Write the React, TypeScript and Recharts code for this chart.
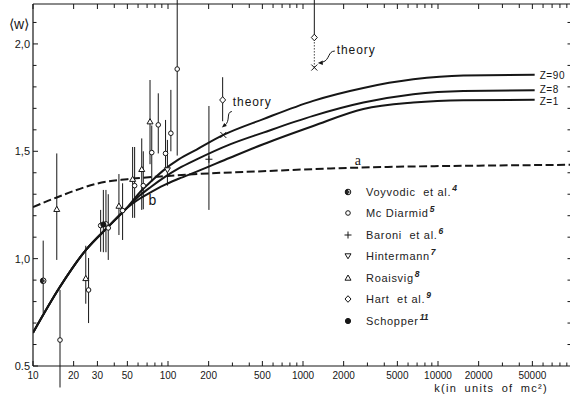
import React from "react";
import {
  ComposedChart,
  Line,
  Scatter,
  XAxis,
  YAxis,
  ErrorBar,
  Legend,
  ReferenceDot,
  LabelList,
} from "recharts";

if (typeof document !== "undefined") document.body.style.margin = "0";

const FONT = '"Liberation Sans", Arial, sans-serif';
const INK = "#161616";

// axes
const xTicks = [
  10, 20, 30, 40, 50, 60, 70, 80, 90, 100, 200, 300, 400, 500, 600, 700, 800, 900,
  1000, 2000, 3000, 4000, 5000, 6000, 7000, 8000, 9000, 10000, 20000, 30000, 40000,
  50000, 60000, 70000, 80000, 90000,
];
const xLabels = [10, 20, 30, 50, 100, 200, 500, 1000, 2000, 5000, 10000, 20000, 50000];
const yTicks = [0.5, 0.6, 0.7, 0.8, 0.9, 1.0, 1.1, 1.2, 1.3, 1.4, 1.5, 1.6, 1.7, 1.8, 1.9, 2.0, 2.1];
const yLabels: Record<string, string> = { "0.5": "0.5", "1": "1,0", "1.5": "1,5", "2": "2,0" };

// theory curves [k, <w>]
const curveZ90 = [
  [10, 0.655], [15.85, 0.869], [24.6, 1.04], [36.1, 1.149], [49.4, 1.235], [62, 1.31],
  [75, 1.36], [92, 1.41], [120, 1.462], [163, 1.508], [257, 1.576], [508, 1.65], [1190, 1.735],
  [2800, 1.795], [6560, 1.835], [15400, 1.853], [52000, 1.856],
];
const curveZ8 = [
  [10, 0.655], [15.85, 0.869], [24.6, 1.04], [36.1, 1.149], [49.4, 1.235], [62, 1.295],
  [75, 1.335], [92, 1.375], [120, 1.42], [163, 1.462], [288, 1.532], [508, 1.587], [1190, 1.665],
  [2800, 1.727], [6560, 1.766], [15400, 1.781], [52000, 1.784],
];
const curveZ1 = [
  [10, 0.655], [15.85, 0.869], [24.6, 1.04], [36.1, 1.149], [49.4, 1.235], [62, 1.28],
  [75, 1.31], [92, 1.34], [120, 1.372], [163, 1.405], [288, 1.47], [508, 1.533], [1190, 1.618],
  [2800, 1.697], [6560, 1.727], [15400, 1.738], [52000, 1.74],
];
const curveA = [
  [10, 1.24], [13, 1.27], [15, 1.285], [20, 1.315], [30, 1.35], [50, 1.37], [100, 1.385],
  [200, 1.397], [500, 1.407], [1600, 1.42], [5000, 1.428], [20000, 1.433], [95000, 1.437],
];

// measurements [k, <w>, bar low, bar high]
const voyvodic = [[11.9, 0.897, 0.747, 1.084]];
const mcDiarmid = [
  [15.85, 0.621, 0.4, 0.854],
  [25.8, 0.854, 0.7, 1.003],
  [31.7, 1.154, 1.032, 1.227],
  [34.7, 1.162, 1.03, 1.32],
  [36.1, 1.143, 0.994, 1.3],
  [46.1, 1.224, 1.087, 1.351],
  [56.6, 1.34, 1.19, 1.52],
  [65.6, 1.34, 1.23, 1.5],
  [75.8, 1.494, 1.358, 1.62],
  [84.7, 1.623, 1.49, 1.77],
  [95.9, 1.49, 1.413, 1.646],
  [105, 1.584, 1.5, 1.786],
  [117, 1.883, 1.48, 2.3],
];
const baroni = [[201, 1.463, 1.227, 1.711]];
const hintermann = [[99, 1.413, 1.34, 1.553]];
const roaisvig = [
  [15.0, 1.23, 0.994, 1.49],
  [24.6, 0.908, 0.79, 1.06],
  [43.3, 1.245, 1.11, 1.394],
  [54.7, 1.37, 1.19, 1.52],
  [63.9, 1.416, 1.227, 1.56],
  [73.6, 1.638, 1.44, 1.832],
];
const hart = [
  [254, 1.739, 1.64, 1.845],
  [1213, 2.03, 2.03, 2.3],
];
const schopper = [[33.2, 1.159, 1.03, 1.32]];
const theory = [
  [257, 1.576, 1.576, 1.576],
  [1213, 1.89, 1.89, 2.03],
];

const toLine = (rows: number[][]) => rows.map(([k, v]) => ({ k, v }));
const toPoints = (rows: number[][]) =>
  rows.map(([k, v, lo, hi]) => ({ k, v, err: [v - lo, hi - v] }));

const series = [
  { key: "voyvodic", rows: voyvodic, label: "Voyvodic  et al.", ref: "4" },
  { key: "mc", rows: mcDiarmid, label: "Mc Diarmid", ref: "5" },
  { key: "baroni", rows: baroni, label: "Baroni  et al.", ref: "6" },
  { key: "hinter", rows: hintermann, label: "Hintermann", ref: "7" },
  { key: "roaisvig", rows: roaisvig, label: "Roaisvig", ref: "8" },
  { key: "hart", rows: hart, label: "Hart  et al.", ref: "9" },
  { key: "schopper", rows: schopper, label: "Schopper", ref: "11" },
];

function Marker({ kind, cx, cy }: { kind: string; cx: number; cy: number }) {
  const s = { stroke: INK, strokeWidth: 1 };
  switch (kind) {
    case "voyvodic":
      return (
        <g>
          <circle cx={cx} cy={cy} r={2.8} fill="#fff" {...s} />
          <path d={`M${cx} ${cy - 2.8} A2.8 2.8 0 0 0 ${cx} ${cy + 2.8} Z`} fill={INK} />
          <circle cx={cx} cy={cy} r={1.6} fill="#333" />
        </g>
      );
    case "mc":
      return <circle cx={cx} cy={cy} r={2.3} fill="#fff" {...s} />;
    case "baroni":
      return (
        <path d={`M${cx - 3.5} ${cy}H${cx + 3.5}M${cx} ${cy - 3.5}V${cy + 3.5}`} fill="none" {...s} />
      );
    case "hinter":
      return (
        <path d={`M${cx - 3} ${cy - 2.2}L${cx + 3} ${cy - 2.2}L${cx} ${cy + 2.8}Z`} fill="#fff" {...s} />
      );
    case "roaisvig":
      return (
        <path d={`M${cx - 3} ${cy + 2.2}L${cx + 3} ${cy + 2.2}L${cx} ${cy - 3}Z`} fill="#fff" {...s} />
      );
    case "hart":
      return (
        <path d={`M${cx} ${cy - 3.3}L${cx + 3} ${cy}L${cx} ${cy + 3.3}L${cx - 3} ${cy}Z`} fill="#fff" {...s} />
      );
    case "schopper":
      return <circle cx={cx} cy={cy} r={2.6} fill={INK} {...s} />;
    case "theory":
      return (
        <path d={`M${cx - 3} ${cy - 3}L${cx + 3} ${cy + 3}M${cx + 3} ${cy - 3}L${cx - 3} ${cy + 3}`} {...s} />
      );
    default:
      return null;
  }
}

const BottomTick = (props: any) => {
  const { x, y, payload } = props;
  const labeled = xLabels.includes(payload.value);
  return (
    <g>
      <line x1={x} x2={x} y1={y} y2={y - (labeled ? 5 : 3.5)} stroke={INK} strokeWidth={1} />
      {labeled && (
        <text x={x} y={y + 13} textAnchor="middle" fontSize={10} fontFamily={FONT} fill={INK}>
          {payload.value}
        </text>
      )}
    </g>
  );
};

const TopTick = (props: any) => {
  const { x, y, payload } = props;
  const labeled = xLabels.includes(payload.value);
  return <line x1={x} x2={x} y1={y} y2={y + (labeled ? 5 : 4)} stroke={INK} strokeWidth={1} />;
};

const LeftTick = (props: any) => {
  const { x, y, payload } = props;
  const axisX = x + 3;
  const label = yLabels[String(payload.value)];
  return (
    <g>
      <line x1={axisX} x2={axisX + (label ? 5 : 3.5)} y1={y} y2={y} stroke={INK} strokeWidth={1} />
      {label && (
        <text x={x} y={y + 4} textAnchor="end" fontSize={11} fontFamily={FONT} fill={INK}>
          {label}
        </text>
      )}
    </g>
  );
};

const RightTick = (props: any) => {
  const { x, y } = props;
  return <line x1={x} x2={x - 2.5} y1={y} y2={y} stroke={INK} strokeWidth={1} />;
};

const zLabel = (text: string, count: number, dy: number) => (p: any) =>
  p.index === count - 1 ? (
    <text x={p.x + 5} y={p.y + dy} fontSize={10} fontFamily={FONT} fill={INK} letterSpacing={0.6}>
      {text}
    </text>
  ) : null;

const theoryLabel = (p: any) => {
  const cx = p.x;
  const cy = p.y;
  if (p.index === 0) {
    return (
      <g>
        <path
          d={`M${cx + 13} ${cy - 19} C${cx + 7} ${cy - 18} ${cx + 12} ${cy - 10} ${cx + 6} ${cy - 5}`}
          fill="none"
          stroke={INK}
          strokeWidth={1}
        />
        <path d={`M${cx + 3} ${cy - 3}L${cx + 8} ${cy - 4.5}L${cx + 5.5} ${cy - 7.5}Z`} fill={INK} />
        <text x={cx + 14} y={cy - 24} fontSize={12} fontFamily={FONT} fill={INK} letterSpacing={0.9}>
          theory
        </text>
      </g>
    );
  }
  return (
    <g>
      <path
        d={`M${cx + 25} ${cy - 12} C${cx + 18} ${cy - 12} ${cx + 20} ${cy - 3} ${cx + 13} ${cy - 1}`}
        fill="none"
        stroke={INK}
        strokeWidth={1}
      />
      <path d={`M${cx + 8} ${cy}L${cx + 13} ${cy - 2.5}L${cx + 13} ${cy + 2}Z`} fill={INK} />
      <text x={cx + 27} y={cy - 9} fontSize={12} fontFamily={FONT} fill={INK} letterSpacing={0.9}>
        theory
      </text>
    </g>
  );
};

const renderLegend = () => (
  <div style={{ fontFamily: FONT, fontSize: 11, color: "#222", letterSpacing: 0.7 }}>
    {series.map((s) => (
      <div key={s.key} style={{ display: "flex", alignItems: "center", height: 21.5, whiteSpace: "pre" }}>
        <svg width={12} height={12} style={{ marginRight: 12 }}>
          <Marker kind={s.key} cx={6} cy={6} />
        </svg>
        <span>
          {s.label}
          <span
            style={{
              position: "relative",
              top: -5,
              marginLeft: 1,
              fontStyle: "italic",
              fontWeight: "bold",
              fontSize: 8.5,
              letterSpacing: 0,
            }}
          >
            {s.ref}
          </span>
        </span>
      </div>
    ))}
  </div>
);

const yTitle = (p: any) => {
  const vb = p.viewBox;
  return (
    <text x={vb.x + 19} y={vb.y + 25} textAnchor="middle" fontSize={14} fontFamily={FONT} fill={INK}>
      ⟨w⟩
    </text>
  );
};

const xTitle = (p: any) => {
  const vb = p.viewBox;
  return (
    <text
      x={vb.x + vb.width - 22}
      y={vb.y + 26}
      textAnchor="end"
      fontSize={11}
      fontFamily={FONT}
      fill={INK}
      letterSpacing={1.3}
      wordSpacing={3}
    >
      k(in units of mc²)
    </text>
  );
};

const DOMAIN_X: [number, number] = [10, 95000];
const DOMAIN_Y: [number, number] = [0.5, 2.186];

export default function App() {
  return (
    <div style={{ background: "#fff", width: 571, height: 404 }}>
      <ComposedChart width={571} height={404} margin={{ top: 3, right: 0, bottom: 0, left: 0 }}>
        <XAxis
          dataKey="k"
          type="number"
          scale="log"
          domain={DOMAIN_X}
          allowDataOverflow
          ticks={xTicks}
          interval={0}
          tick={BottomTick}
          tickLine={false}
          tickSize={0}
          tickMargin={0}
          height={38}
          axisLine={{ stroke: INK, strokeWidth: 1.2 }}
          label={xTitle}
        />
        <XAxis
          xAxisId="top"
          orientation="top"
          dataKey="k"
          type="number"
          scale="log"
          domain={DOMAIN_X}
          allowDataOverflow
          ticks={xTicks}
          interval={0}
          tick={TopTick}
          tickLine={false}
          tickSize={0}
          tickMargin={0}
          height={1}
          axisLine={{ stroke: INK, strokeWidth: 1.2 }}
        />
        <YAxis
          dataKey="v"
          type="number"
          domain={DOMAIN_Y}
          allowDataOverflow
          ticks={yTicks}
          interval={0}
          tick={LeftTick}
          tickLine={false}
          tickSize={0}
          tickMargin={3}
          width={33}
          axisLine={{ stroke: INK, strokeWidth: 1.2 }}
          label={yTitle}
        />
        <YAxis
          yAxisId="right"
          orientation="right"
          type="number"
          domain={DOMAIN_Y}
          allowDataOverflow
          ticks={yTicks.slice(1)}
          interval={0}
          tick={RightTick}
          tickLine={false}
          axisLine={false}
          tickSize={0}
          tickMargin={0}
          width={1}
        />

        <Line data={toLine(curveA)} dataKey="v" type="monotone" stroke={INK} strokeWidth={2}
          strokeDasharray="8 3.5" dot={false} isAnimationActive={false} legendType="none" />
        <Line data={toLine(curveZ1)} dataKey="v" type="monotone" stroke={INK} strokeWidth={2}
          dot={false} isAnimationActive={false} legendType="none">
          <LabelList dataKey="v" content={zLabel("Z=1", curveZ1.length, 5)} />
        </Line>
        <Line data={toLine(curveZ8)} dataKey="v" type="monotone" stroke={INK} strokeWidth={2}
          dot={false} isAnimationActive={false} legendType="none">
          <LabelList dataKey="v" content={zLabel("Z=8", curveZ8.length, 3)} />
        </Line>
        <Line data={toLine(curveZ90)} dataKey="v" type="monotone" stroke={INK} strokeWidth={2}
          dot={false} isAnimationActive={false} legendType="none">
          <LabelList dataKey="v" content={zLabel("Z=90", curveZ90.length, 4)} />
        </Line>

        {series.map((s) => (
          <Scatter
            key={s.key}
            data={toPoints(s.rows)}
            isAnimationActive={false}
            shape={(p: any) => <Marker kind={s.key} cx={p.cx} cy={p.cy} />}
          >
            <ErrorBar dataKey="err" direction="y" width={0} stroke={INK} strokeWidth={1} />
          </Scatter>
        ))}
        <Scatter
          data={toPoints(theory)}
          isAnimationActive={false}
          shape={(p: any) => <Marker kind="theory" cx={p.cx} cy={p.cy} />}
        >
          <ErrorBar dataKey="err" direction="y" width={0} stroke={INK} strokeWidth={0.8} strokeDasharray="1.5 1.5" />
          <LabelList dataKey="v" content={theoryLabel} />
        </Scatter>

        <ReferenceDot x={2550} y={1.455} r={0}
          shape={(p: any) => (
            <text x={p.cx} y={p.cy + 4} textAnchor="middle" fontSize={14} fontFamily='"Liberation Serif", serif' fill={INK}>a</text>
          )} />
        <ReferenceDot x={76.6} y={1.272} r={0}
          shape={(p: any) => (
            <text x={p.cx} y={p.cy + 5} textAnchor="middle" fontSize={14} fontFamily={FONT} fill={INK}>b</text>
          )} />

        <Legend
          layout="vertical"
          align="center"
          verticalAlign="middle"
          content={renderLegend}
          wrapperStyle={{ left: 342, top: 181, width: 160, height: 160 }}
        />
      </ComposedChart>
    </div>
  );
}
